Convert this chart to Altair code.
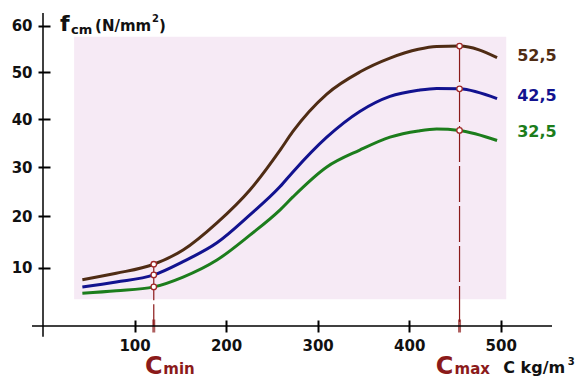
import altair as alt
import pandas as pd

# ---- data ----
grades = ["52,5", "42,5", "32,5"]
line_colors = ["#4f2c14", "#12128f", "#1c7d1c"]
label_colors = ["#111111", "#14148c", "#1a6e1a"]

cement = [43, 80, 121, 153, 190, 226, 259, 273, 310, 346, 379, 410, 430, 455, 496]
f_525 = [7.8, 9.0, 10.7, 13.4, 18.7, 25.3, 33.5, 37.4, 45.3, 50.0, 53.0, 54.9, 55.5, 55.6, 53.1]
f_425 = [6.5, 7.4, 8.7, 11.2, 14.8, 20.3, 26.0, 29.0, 36.2, 41.6, 44.8, 46.1, 46.5, 46.4, 44.3]
f_325 = [5.35, 5.8, 6.5, 8.3, 11.5, 16.3, 21.3, 23.9, 30.0, 33.5, 36.2, 37.5, 37.9, 37.6, 35.5]

c_min = 121
c_max = 455
x_ticks = [100, 200, 300, 400, 500]
y_ticks = [10, 20, 30, 40, 50, 60]
label_x = 518
label_y = [53.4, 44.9, 37.2]
band_x = [34, 506]
band_y = [4.3, 57.6]
x_line = [-12, 556]
y_line = [-1.6, 62.8]

# ---- tables ----
series = {"52,5": f_525, "42,5": f_425, "32,5": f_325}
rows = []
for g in grades:
    for c, f in zip(cement, series[g]):
        rows.append({"x": c, "y": f, "grade": g})
df = pd.DataFrame(rows)
markers = df[df["x"].isin([c_min, c_max])]
top = df[(df["grade"] == grades[0]) & (df["x"].isin([c_min, c_max]))]
drop = pd.DataFrame({"x": top["x"].values, "y": top["y"].values, "y2": [0, 0]})

FONT = "DejaVu Sans"
RED = "#8b1a1a"

xs = alt.Scale(domain=[0, 556], nice=False, zero=False)
ys = alt.Scale(type="pow", exponent=0.917, domain=[0, 62.8], nice=False)

x_axis = alt.Axis(values=x_ticks, domain=False, grid=False, tickSize=12, tickWidth=2,
                  tickColor="black", offset=-6, labelFont=FONT, labelFontWeight="bold",
                  labelFontSize=15, labelColor="#111111", labelPadding=6, title=None)
y_axis = alt.Axis(values=y_ticks, domain=False, grid=False, tickSize=12, tickWidth=2,
                  tickColor="black", offset=-7, labelFont=FONT, labelFontWeight="bold",
                  labelFontSize=15, labelColor="#111111", labelPadding=6, title=None)

base_x = alt.X("x:Q", scale=xs, axis=x_axis)
base_y = alt.Y("y:Q", scale=ys, axis=y_axis)

band = alt.Chart(pd.DataFrame({"x": [band_x[0]], "x2": [band_x[1]],
                               "y": [band_y[0]], "y2": [band_y[1]]})).mark_rect(
    color="#f6eaf5").encode(x=base_x, x2="x2:Q", y=base_y, y2="y2:Q")

drops = alt.Chart(drop).mark_rule(color=RED, strokeWidth=1.2, strokeDash=[36, 4]).encode(
    x=base_x, y=base_y, y2="y2:Q")

lines = alt.Chart(df).mark_line(strokeWidth=3, interpolate="monotone").encode(
    x=base_x, y=base_y,
    color=alt.Color("grade:N", scale=alt.Scale(domain=grades, range=line_colors), legend=None),
    detail="grade:N")

pts = alt.Chart(markers).mark_point(shape="circle", filled=True, fill="white", stroke="#a02828",
                                    strokeWidth=1.3, size=30, opacity=1).encode(x=base_x, y=base_y)

ticks = alt.Chart(pd.DataFrame({"x": [c_min, c_max], "y": [0, 0]})).mark_tick(
    orient="vertical", size=13, thickness=3, color=RED).encode(x=base_x, y=base_y)

xaxis_line = alt.Chart(pd.DataFrame({"x": [x_line[0]], "x2": [x_line[1]], "y": [0]})).mark_rule(
    color="black", strokeWidth=1.5).encode(x=base_x, x2="x2:Q", y=base_y)
yaxis_line = alt.Chart(pd.DataFrame({"x": [0], "y": [y_line[0]], "y2": [y_line[1]]})).mark_rule(
    color="black", strokeWidth=1.5).encode(x=base_x, y=base_y, y2="y2:Q")

labels = alt.Chart(pd.DataFrame({"x": [label_x] * 3, "y": label_y, "t": grades})).mark_text(
    align="left", baseline="middle", font=FONT, fontWeight="bold", fontSize=16).encode(
    x=base_x, y=base_y, text="t:N",
    color=alt.Color("t:N", scale=alt.Scale(domain=grades, range=label_colors), legend=None))


def txt(x, y, s, size, dx=0, dy=0, align="left", color="#111111", weight="bold"):
    return alt.Chart(pd.DataFrame({"x": [x], "y": [y], "t": [s]})).mark_text(
        align=align, baseline="alphabetic", font=FONT, fontWeight=weight, fontSize=size,
        dx=dx, dy=dy, color=color).encode(x=base_x, y=base_y, text="t:N")


title_x, title_y = 18.6, 58.9
texts = [
    txt(title_x, title_y, "f", 22),
    txt(title_x, title_y, "cm", 13, dx=11, dy=3),
    txt(title_x, title_y, "(N/mm", 15, dx=35),
    txt(title_x, title_y, "2", 10, dx=92, dy=-9),
    txt(title_x, title_y, ")", 15, dx=99),
    txt(c_min, 0, "C", 24, dy=48, align="center", color=RED),
    txt(c_min, 0, "min", 15, dx=9.5, dy=48, color=RED),
    txt(c_max, 0, "C", 24, dx=-15, dy=48, align="center", color=RED),
    txt(c_max, 0, "max", 15, dx=-5, dy=48, color=RED),
    txt(500, 0, "C kg/m", 16, dx=2.5, dy=47),
    txt(500, 0, "3", 10, dx=67, dy=39),
]

chart = alt.layer(band, drops, lines, pts, ticks, xaxis_line, yaxis_line, labels, *texts).properties(
    width=509, height=313,
    autosize=alt.AutoSizeParams(type="none"),
    padding={"left": 35, "top": 5, "right": 24, "bottom": 50},
    background="white",
).configure_view(stroke=None)

chart.save("out.html", embed_options={"renderer": "svg", "actions": False})
